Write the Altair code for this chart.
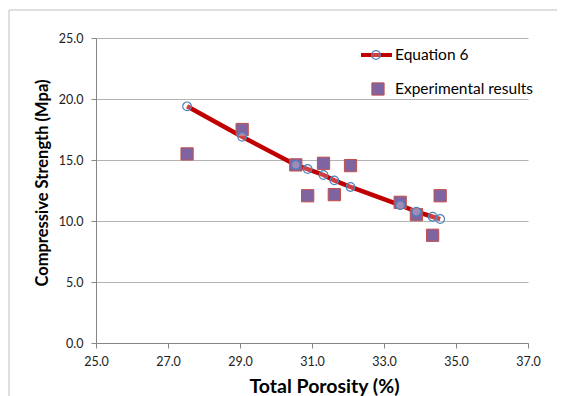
import altair as alt
import pandas as pd

# Data
porosity = [27.53, 29.06, 30.55, 30.88, 31.32, 31.62, 32.07, 33.45, 33.90, 34.35, 34.56]
equation6 = [19.4, 16.9, 14.6, 14.26, 13.77, 13.33, 12.79, 11.3, 10.76, 10.35, 10.16]
experimental = [15.5, 17.5, 14.6, 12.07, 14.73, 12.16, 14.54, 11.53, 10.52, 8.83, 12.07]

x_ticks = [25, 27, 29, 31, 33, 35, 37]
y_ticks = [0, 5, 10, 15, 20, 25]
legend_labels = ["Equation 6", "Experimental results"]

df = pd.DataFrame({"x": porosity, "eq": equation6, "exp": experimental})

FONT = "Lato"
W, H = 432, 305

xscale = alt.Scale(domain=[25, 37], nice=False, zero=False)
yscale = alt.Scale(domain=[0, 25], nice=False)

xaxis = alt.Axis(values=x_ticks, format=".1f", title="Total Porosity (%)", grid=False,
                 domainColor="#868686", tickColor="#868686", tickSize=5, labelFlush=False,
                 labelPadding=7, labelFontSize=12.5, labelFont=FONT, labelColor="#222",
                 titleFont=FONT, titleFontSize=19.5, titleFontWeight="bold", titleColor="#000",
                 titleX=228, titleY=34, titleBaseline="top", titleAnchor="middle")
yaxis = alt.Axis(values=y_ticks, format=".1f", title="Compressive Strength (Mpa)", grid=True,
                 gridColor="#B3B3B3", domainColor="#868686", tickColor="#868686", tickSize=5,
                 labelFlush=False,
                 labelPadding=8, labelFontSize=12.5, labelFont=FONT, labelColor="#222",
                 titleFont=FONT, titleFontSize=16.5, titleFontWeight="bold", titleColor="#000",
                 titleX=-54, titleY=144.5, titleBaseline="middle", titleAngle=270)

base = alt.Chart(df)

line = base.mark_line(color="#C00000", strokeWidth=4.5).encode(
    x=alt.X("x:Q", scale=xscale, axis=xaxis),
    y=alt.Y("eq:Q", scale=yscale, axis=yaxis),
)
squares = base.mark_point(shape="square", filled=True, size=150, fill="#8064A2",
                          stroke="#C0504D", strokeWidth=1, opacity=1).encode(
    x=alt.X("x:Q", scale=xscale),
    y=alt.Y("exp:Q", scale=yscale),
)
circles = base.mark_point(shape="circle", size=75, fill="white", fillOpacity=0.25,
                          stroke="#4F81BD", strokeWidth=1.2, opacity=1).encode(
    x=alt.X("x:Q", scale=xscale),
    y=alt.Y("eq:Q", scale=yscale),
)

# Legend (manual)
one = alt.Chart(pd.DataFrame({"a": [0]}))
leg_line = one.mark_rule(color="#C00000", strokeWidth=4).encode(
    x=alt.value(265), x2=alt.value(296), y=alt.value(17))
leg_circle = one.mark_point(shape="circle", size=75, fill="white", fillOpacity=0.25,
                            stroke="#4F81BD", strokeWidth=1.2, opacity=1).encode(
    x=alt.value(280), y=alt.value(17))
leg_square = one.mark_point(shape="square", filled=True, size=150, fill="#8064A2",
                            stroke="#C0504D", strokeWidth=1, opacity=1).encode(
    x=alt.value(282), y=alt.value(51))
leg_text1 = one.mark_text(align="left", baseline="middle", font=FONT, fontSize=15.5,
                          color="#000", text=legend_labels[0]).encode(
    x=alt.value(299), y=alt.value(17))
leg_text2 = one.mark_text(align="left", baseline="middle", font=FONT, fontSize=15.5,
                          color="#000", text=legend_labels[1]).encode(
    x=alt.value(299), y=alt.value(51))

# Chart frame: outline whose right and bottom edges fall outside the picture
frame = one.mark_rect(fill="white", fillOpacity=0, stroke="#BFBFBF", strokeWidth=1).encode(
    x=alt.value(-87), x2=alt.value(500), y=alt.value(-28), y2=alt.value(420))

chart = alt.layer(
    frame, line, squares, circles,
    leg_line, leg_circle, leg_square, leg_text1, leg_text2,
).properties(
    width=W, height=H,
    autosize=alt.AutoSizeParams(type="none"),
    padding={"left": 88, "top": 30, "right": 29, "bottom": 53},
    background="white",
).configure_view(stroke=None)

chart.save("out.html", embed_options={"renderer": "svg", "actions": False})
